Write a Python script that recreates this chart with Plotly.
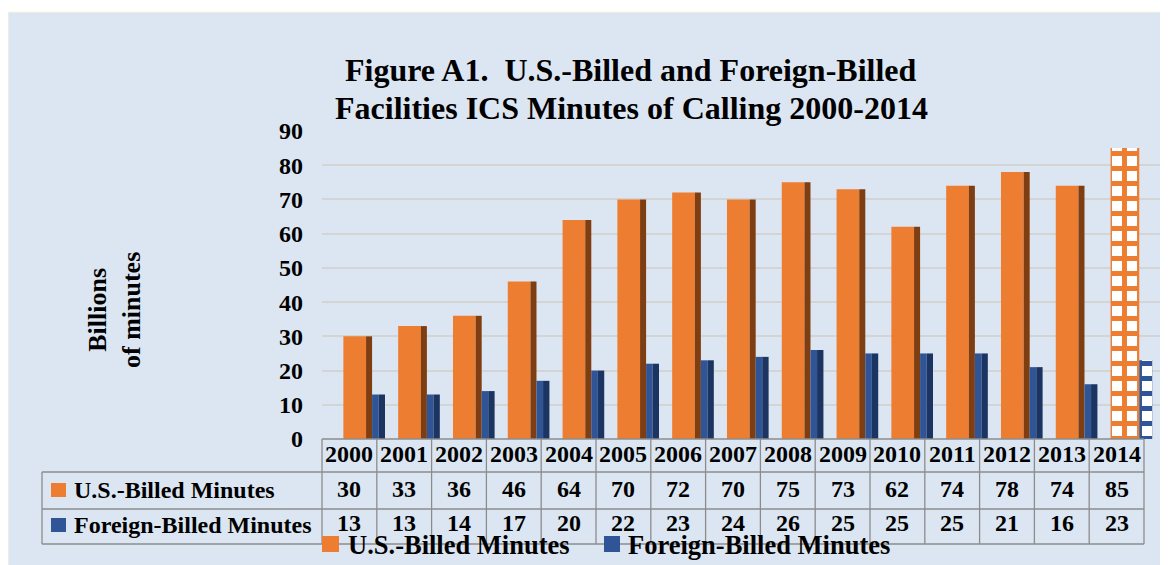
import plotly.graph_objects as go

years = ["2000", "2001", "2002", "2003", "2004", "2005", "2006", "2007",
         "2008", "2009", "2010", "2011", "2012", "2013", "2014"]
us_billed = [30, 33, 36, 46, 64, 70, 72, 70, 75, 73, 62, 74, 78, 74, 85]
foreign_billed = [13, 13, 14, 17, 20, 22, 23, 24, 26, 25, 25, 25, 21, 16, 23]
projected = [False] * 14 + [True]   # 2014 drawn with checker fill
y_ticks = [0, 10, 20, 30, 40, 50, 60, 70, 80, 90]

ORANGE, ORANGE_SIDE = "#ed7d31", "#7f3d12"
BLUE, BLUE_SIDE = "#2f5597", "#1c3461"
BG = "#dce6f2"
GRID = "#d4d4d4"
TABLE_LINE = "#8c8c8c"
FONT = "Liberation Serif, Times New Roman, serif"

# the page body adds an 8px margin, so the figure is drawn 8px smaller
OFF = 8
W, H = 1168 - OFF, 565 - OFF
L, R, T, B = 322, 1168, 131, 439          # plot area in page pixels
x_range = [-0.5, 14.938]


def xp(px):
    return (px - L) / (R - L)


def yp(py):
    return (B - py) / (B - T)


def cat_px(c):
    return L + (c - x_range[0]) / (x_range[1] - x_range[0]) * (R - L)


def pattern(color):
    return dict(shape=["+" if p else "" for p in projected], fgcolor=color,
                bgcolor="white", size=15, solidity=0.55, fillmode="replace")


fig = go.Figure()

# orange bars: face + dark side (3D look)
fig.add_trace(go.Bar(
    x=years, y=us_billed, offset=-0.11,
    width=[0.414 + (0.11 if p else 0) for p in projected],
    marker=dict(color=ORANGE, line_width=0, pattern=pattern(ORANGE)),
    name="U.S.-Billed Minutes", showlegend=False,
))
fig.add_trace(go.Bar(
    x=years, y=[None if p else v for v, p in zip(us_billed, projected)],
    offset=0.304, width=0.11,
    marker=dict(color=ORANGE_SIDE, line_width=0),
    showlegend=False, hoverinfo="skip",
))
fig.add_trace(go.Bar(
    x=years, y=foreign_billed, offset=0.414,
    width=[0.12 + (0.116 if p else 0) for p in projected],
    marker=dict(color=BLUE, line_width=0, pattern=pattern(BLUE)),
    name="Foreign-Billed Minutes", showlegend=False,
))
fig.add_trace(go.Bar(
    x=years, y=[None if p else v for v, p in zip(foreign_billed, projected)],
    offset=0.534, width=0.116,
    marker=dict(color=BLUE_SIDE, line_width=0),
    showlegend=False, hoverinfo="skip",
))

shapes = []
annotations = []

# chart background panel
shapes.append(dict(type="rect", xref="paper", yref="paper", layer="below",
                   x0=xp(8), x1=xp(1172), y0=yp(12), y1=yp(570),
                   fillcolor=BG, line=dict(color="#fbf6d8", width=1)))

# data table grid
n = len(years)
col_edges = [cat_px(i - 0.5) for i in range(n + 1)]
line = dict(color=TABLE_LINE, width=1.3)
for px in col_edges:
    shapes.append(dict(type="line", xref="paper", yref="paper",
                       x0=xp(px), x1=xp(px), y0=yp(439), y1=yp(544), line=line))
shapes.append(dict(type="line", xref="paper", yref="paper",
                   x0=xp(col_edges[0]), x1=xp(col_edges[-1]), y0=yp(439), y1=yp(439), line=line))
for py in [472, 509, 544]:
    shapes.append(dict(type="line", xref="paper", yref="paper",
                       x0=xp(42), x1=xp(col_edges[-1]), y0=yp(py), y1=yp(py), line=line))
shapes.append(dict(type="line", xref="paper", yref="paper",
                   x0=xp(42), x1=xp(42), y0=yp(472), y1=yp(544), line=line))

tfont = dict(family=FONT, size=24, color="black", weight="bold")
for i, yr in enumerate(years):
    cx = xp(cat_px(i))
    annotations.append(dict(x=cx, y=yp(454), text=yr, font=tfont))
    annotations.append(dict(x=cx, y=yp(489), text=str(us_billed[i]), font=tfont))
    annotations.append(dict(x=cx, y=yp(523), text=str(foreign_billed[i]), font=tfont))

# table row keys
for (py0, py1, col, label, cy) in [(483, 497, ORANGE, "U.S.-Billed Minutes", 490),
                                    (518, 532, BLUE, "Foreign-Billed Minutes", 525)]:
    shapes.append(dict(type="rect", xref="paper", yref="paper",
                       x0=xp(51), x1=xp(66), y0=yp(py1), y1=yp(py0),
                       fillcolor=col, line_width=0))
    annotations.append(dict(x=xp(72), y=yp(cy), text=label, xanchor="left", font=tfont))

# bottom legend
lfont = dict(family=FONT, size=26.5, color="black", weight="bold")
for (x0, x1, col, label, tx) in [(322, 339, ORANGE, "U.S.-Billed Minutes", 346),
                                  (604, 620, BLUE, "Foreign-Billed Minutes", 626)]:
    shapes.append(dict(type="rect", xref="paper", yref="paper",
                       x0=xp(x0), x1=xp(x1), y0=yp(552), y1=yp(536),
                       fillcolor=col, line_width=0))
    annotations.append(dict(x=xp(tx), y=yp(545), text=label, xanchor="left", font=lfont))

# title
title_font = dict(family=FONT, size=32, color="black", weight="bold")
annotations.append(dict(x=xp(631), y=yp(70), text="Figure A1.  U.S.-Billed and Foreign-Billed",
                        font=title_font))
annotations.append(dict(x=xp(631), y=yp(108), text="Facilities ICS Minutes of Calling 2000-2014",
                        font=title_font))

# y-axis title
annotations.append(dict(x=xp(114), y=yp(310), text="Billions<br>of minutes", textangle=-90,
                        font=dict(family=FONT, size=26, color="black", weight="bold")))

for a in annotations:
    a.setdefault("xref", "paper")
    a.setdefault("yref", "paper")
    a.setdefault("showarrow", False)
    a.setdefault("xanchor", "center")
    a.setdefault("yanchor", "middle")

fig.update_layout(
    width=W, height=H,
    margin=dict(l=L - OFF, r=1168 - R, t=T - OFF, b=565 - B, pad=0),
    paper_bgcolor="white",
    plot_bgcolor="rgba(0,0,0,0)",
    barmode="overlay",
    showlegend=False,
    shapes=shapes,
    annotations=annotations,
    xaxis=dict(type="category", range=x_range, showticklabels=False,
               showgrid=False, zeroline=False, ticks=""),
    yaxis=dict(range=[0, 90], tickvals=y_ticks, showgrid=True, gridcolor=GRID,
               gridwidth=2, zeroline=False, ticks="", ticklabelstandoff=18,
               tickfont=dict(family=FONT, size=24, color="black", weight="bold")),
)

fig.write_html("out.html")
